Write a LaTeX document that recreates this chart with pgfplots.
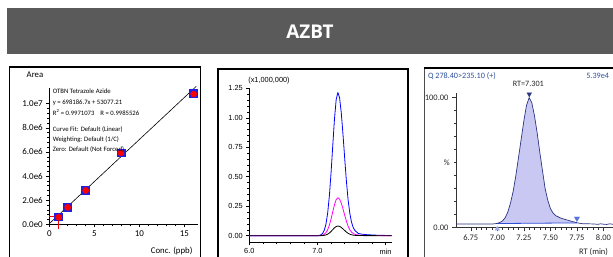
\documentclass[border=0pt]{standalone}
\usepackage{fontspec}
\usepackage{pgfplots}
\pgfplotsset{compat=1.18}
\setmainfont{Carlito}
\newfontfamily\osans{Open Sans}
\newfontfamily\lsans{Liberation Sans}
\newfontfamily\carl{Carlito}
\definecolor{banner}{HTML}{5A5A5A}
\definecolor{sqblue}{HTML}{1F1FE0}
\definecolor{ptred}{HTML}{FF0000}
\definecolor{navy}{HTML}{2B3580}
\definecolor{peakfill}{HTML}{C8C8F2}
\definecolor{intblue}{HTML}{2E4FD6}
\definecolor{qblue}{HTML}{2F4F9F}
\definecolor{mag}{HTML}{FF00FF}
\begin{document}
\begin{tikzpicture}[x=1bp,y=1bp]
\fill[white] (0,0) rectangle (613,256);
% banner
\fill[banner] (6.7,201.7) rectangle (614,247.7);
\node[text=white, font=\osans\bfseries\fontsize{19}{20}\selectfont] at (310,224.7) {AZBT};
% frames
\draw[black, line width=1.2bp] (9.3,189) rectangle (200.5,-5);
\draw[black, line width=2bp] (218,187) rectangle (408,-5);
\draw[black!70, line width=0.8bp] (424,188) -- (424,-5);
\draw[black, line width=2bp] (423.6,188) -- (615,188);

% ---------------- Panel 1: calibration ----------------
\begin{axis}[at={(49.3bp,31.7bp)}, anchor=south west, scale only axis,
  width=148.7bp, height=136.3bp,
  xmin=0, xmax=16.5, ymin=0, ymax=11.3e6,
  axis lines*=left, axis line style={black, line width=0.6bp},
  xtick={0,5,10,15}, minor x tick num=4,
  ytick={0,2e6,4e6,6e6,8e6,1e7},
  yticklabels={0.0e0,2.0e6,4.0e6,6.0e6,8.0e6,1.0e7},
  scaled y ticks=false, minor y tick num=4,
  tick align=outside, major tick length=3bp, minor tick length=2bp,
  tick style={black, line width=0.5bp},
  tick label style={font=\carl\fontsize{9}{10}\selectfont},
  /pgf/number format/assume math mode=true,
  clip=false]
\addplot[black, line width=0.6bp] coordinates {(0,53077.21) (16.3,11433520)};
\addplot[ptred, line width=0.6bp] coordinates {(0,0.69e6) (1,0.69e6) (1,-0.4e6)};
\addplot[only marks, mark=square*, mark size=3.8bp, color=sqblue] coordinates {(1,0.62e6) (2,1.42e6) (4,2.83e6) (8,5.95e6) (16,10.85e6)};
\addplot[only marks, mark=*, mark size=3.1bp, color=ptred] coordinates {(1.05,0.58e6) (2.04,1.40e6) (4.04,2.81e6) (7.95,5.92e6) (16.02,10.8e6)};
\end{axis}
\node[font=\carl\fontsize{8.8}{9}\selectfont] at (35,181) {Area};
\node[anchor=east, font=\carl\fontsize{8.8}{9}\selectfont] at (196,5.3) {Conc. (ppb)};
\begin{scope}[every node/.style={anchor=west, inner sep=0pt, font=\carl\fontsize{6.7}{7}\selectfont}]
\node at (52.7,164.3) {OTBN Tetrazole Azide};
\node at (52.7,153.3) {y = 698186.7x + 53077.21};
\node at (52.7,143.3) {R\textsuperscript{2} = 0.9971073\hspace{6bp}R = 0.9985526};
\node at (52.7,126.7) {Curve Fit: Default (Linear)};
\node at (52.7,116.7) {Weighting: Default (1/C)};
\node at (52.7,106.7) {Zero: Default (Not Forced)};
\end{scope}

% ---------------- Panel 2: overlaid chromatograms ----------------
\begin{axis}[at={(249.3bp,13.7bp)}, anchor=south west, scale only axis,
  width=142.4bp, height=154.6bp,
  xmin=6, xmax=8.09, ymin=-0.056, ymax=1.255,
  axis lines*=left, axis line style={black, line width=0.6bp},
  xtick={6,7,8}, xticklabels={6.0,7.0,min}, minor x tick num=4,
  ytick={0,0.25,0.5,0.75,1,1.25},
  yticklabels={0.00,0.25,0.50,0.75,1.00,1.25},
  minor y tick num=4,
  tick align=outside, major tick length=3bp, minor tick length=2bp,
  tick style={black, line width=0.5bp},
  tick label style={font=\lsans\fontsize{7.4}{8}\selectfont},
  /pgf/number format/assume math mode=true,
  clip=false]
\addplot[blue, line width=0.8bp, line join=round] coordinates {
(6.0,0) (7.0,0) (7.025,0.0024) (7.05,0.0073) (7.075,0.019) (7.10,0.045)
(7.125,0.098) (7.15,0.191) (7.175,0.337) (7.20,0.535) (7.225,0.765)
(7.25,0.989) (7.275,1.154) (7.30,1.215) (7.325,1.169) (7.35,1.041)
(7.375,0.859) (7.40,0.656) (7.425,0.463) (7.45,0.303) (7.475,0.190)
(7.50,0.115) (7.525,0.069) (7.55,0.044) (7.60,0.019) (7.65,0.013)
(7.70,0.0097) (7.80,0.006) (7.90,0.0036) (8.00,0.0024) (8.09,0.0012)};
\addplot[mag, line width=0.8bp, line join=round] coordinates {
(6.0,0) (7.0,0) (7.025,0.0006) (7.05,0.0019) (7.075,0.005) (7.10,0.012)
(7.125,0.026) (7.15,0.051) (7.175,0.089) (7.20,0.142) (7.225,0.203)
(7.25,0.262) (7.275,0.306) (7.30,0.322) (7.325,0.310) (7.35,0.276)
(7.375,0.228) (7.40,0.174) (7.425,0.123) (7.45,0.080) (7.475,0.050)
(7.50,0.031) (7.525,0.018) (7.55,0.012) (7.60,0.005) (7.65,0.0035)
(7.70,0.0026) (7.80,0.0016) (7.90,0.001) (8.00,0.0006) (8.09,0)};
\addplot[black, line width=0.8bp, line join=round] coordinates {
(6.0,0) (7.0,0) (7.05,0.0005) (7.075,0.0013) (7.10,0.003) (7.125,0.0066)
(7.15,0.0129) (7.175,0.0227) (7.20,0.036) (7.225,0.052) (7.25,0.067)
(7.275,0.078) (7.30,0.082) (7.325,0.079) (7.35,0.070) (7.375,0.058)
(7.40,0.044) (7.425,0.031) (7.45,0.020) (7.475,0.0128) (7.50,0.0078)
(7.525,0.0047) (7.55,0.003) (7.60,0.0013) (7.70,0.0007) (8.00,0.0002) (8.09,0)};
\end{axis}
\node[font=\lsans\fontsize{7.4}{8}\selectfont] at (269,175.3) {(x1,000,000)};

% ---------------- Panel 3: single chromatogram ----------------
\begin{axis}[at={(456bp,28.7bp)}, anchor=south west, scale only axis,
  width=160.2bp, height=134bp,
  xmin=6.611, xmax=8.12, ymin=0, ymax=103.3,
  axis lines*=left, axis line style={black!80, line width=0.6bp},
  xtick={6.75,7,7.25,7.5,7.75,8},
  xticklabels={6.75,7.00,7.25,7.50,7.75,8.00}, minor x tick num=4,
  ytick={0,100}, yticklabels={0.00,100.00},
  minor ytick={10,20,30,40,50,60,70,80,90},
  tick align=outside, major tick length=4bp, minor tick length=2.5bp,
  tick style={black!80, line width=0.5bp},
  tick label style={font=\carl\fontsize{8.5}{9}\selectfont, text=black!85},
  /pgf/number format/assume math mode=true,
  clip=false]
\addplot[fill=peakfill, draw=none] coordinates {
(7.00,3.0) (7.025,3.8) (7.05,5.0) (7.075,7.5) (7.10,12) (7.125,19) (7.15,28)
(7.175,40) (7.20,54) (7.225,68) (7.25,82) (7.275,94) (7.30,100) (7.325,96)
(7.35,86) (7.375,73) (7.40,58) (7.425,44) (7.45,30) (7.475,21) (7.50,14.5)
(7.525,11) (7.55,9) (7.60,7) (7.65,5.8) (7.70,4.6) (7.75,3.5)} -- cycle;
\addplot[intblue, line width=0.8bp] coordinates {(7.00,2.9) (7.75,3.4)};
\addplot[navy, line width=0.7bp, line join=round] coordinates {
(6.611,2.5) (6.70,2.5) (6.80,2.6) (6.90,2.5) (6.95,2.5)
(7.00,3.0) (7.025,3.8) (7.05,5.0) (7.075,7.5) (7.10,12) (7.125,19) (7.15,28)
(7.175,40) (7.20,54) (7.225,68) (7.25,82) (7.275,94) (7.30,100) (7.325,96)
(7.35,86) (7.375,73) (7.40,58) (7.425,44) (7.45,30) (7.475,21) (7.50,14.5)
(7.525,11) (7.55,9) (7.60,7) (7.65,5.8) (7.70,4.6) (7.75,3.5)
(7.80,2.8) (7.85,2.7) (7.90,2.6) (7.95,2.3) (7.97,2.7) (8.00,2.4)
(8.03,2.2) (8.06,2.7) (8.09,2.3) (8.12,2.6)};
\addplot[only marks, mark=triangle*, mark size=2.6bp, color=navy, mark options={rotate=180}] coordinates {(7.301,102.6)};
\addplot[only marks, mark=triangle*, mark size=3bp, color=intblue!80, mark options={rotate=180}] coordinates {(7.75,6.8)};
\addplot[only marks, mark=triangle*, mark size=2.6bp, color=intblue!45] coordinates {(7.00,-1.2)};
\end{axis}
\node[anchor=west, text=qblue, font=\carl\fontsize{8.2}{9}\selectfont] at (424.5,180.3) {Q 278.40>235.10 (+)};
\node[anchor=east, text=qblue, font=\carl\fontsize{8.2}{9}\selectfont] at (612.5,180.3) {5.39e4};
\node[text=black!85, font=\carl\fontsize{8.2}{9}\selectfont] at (528.3,172) {RT=7.301};
\node[text=black!85, font=\carl\fontsize{8.2}{9}\selectfont] at (446.7,93.7) {\%};
\node[anchor=east, text=black!85, font=\carl\fontsize{8.5}{9}\selectfont] at (611.5,4.3) {RT (min)};
\pgfresetboundingbox
\useasboundingbox (0,0) rectangle (613,256);
\end{tikzpicture}
\end{document}
